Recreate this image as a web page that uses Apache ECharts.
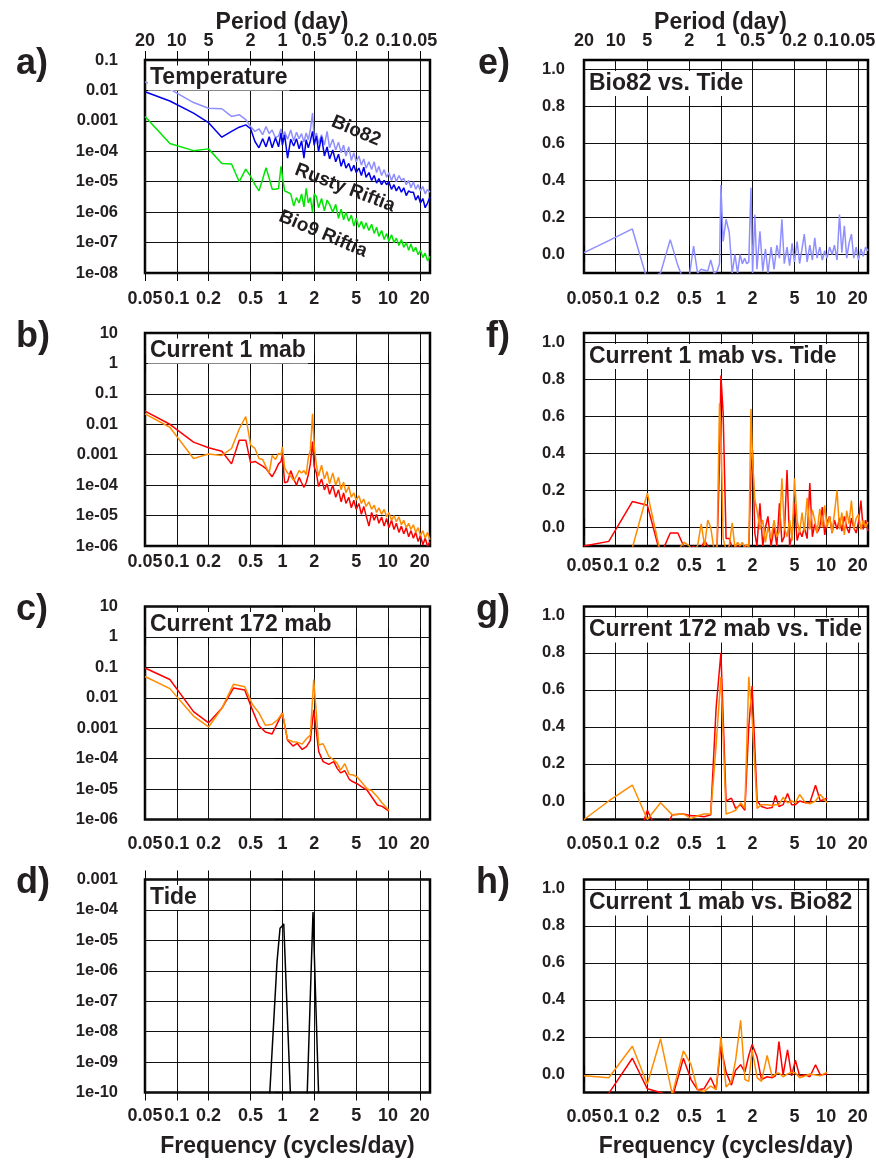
<!DOCTYPE html>
<html>
<head>
<meta charset="utf-8">
<title>Spectra and coherence</title>
<script src="https://cdn.jsdelivr.net/npm/echarts@6/dist/echarts.min.js"></script>
<style>
  html, body { margin: 0; padding: 0; background: #ffffff; }
  #chart { width: 876px; height: 1160px; }
</style>
</head>
<body>
<div id="chart"></div>
<script>
// ---------- tick values and tick labels ----------
const FREQ_TICKS = [0.05, 0.1, 0.2, 0.5, 1, 2, 5, 10, 20];
const FREQ_TICK_LABELS = ['0.05', '0.1', '0.2', '0.5', '1', '2', '5', '10', '20'];
const PERIOD_TICK_LABELS = ['20', '10', '5', '2', '1', '0.5', '0.2', '0.1', '0.05'];
const POWER_EXPONENTS = [-10, -9, -8, -7, -6, -5, -4, -3, -2, -1, 0, 1];
const POWER_TICK_LABELS = ['1e-10', '1e-09', '1e-08', '1e-07', '1e-06', '1e-05', '1e-04', '0.001', '0.01', '0.1', '1', '10'];
const COH_TICKS = [0, 0.2, 0.4, 0.6, 0.8, 1.0];
const COH_TICK_LABELS = ['0.0', '0.2', '0.4', '0.6', '0.8', '1.0'];

// ---------- frequencies (cycles/day) ----------
const FREQ_FULL = [
  0.05, 0.086, 0.144, 0.2, 0.267, 0.33, 0.39, 0.45, 0.5, 0.55, 0.6, 0.65, 0.7, 0.75, 0.8, 0.86,
  0.92, 0.97, 1.0, 1.05, 1.12, 1.2, 1.28, 1.36, 1.44, 1.52, 1.6, 1.68, 1.76, 1.84, 1.93, 2.0,
  2.1, 2.2, 2.35, 2.5, 2.65, 2.8, 3.0, 3.2, 3.4, 3.6, 3.8, 4.0, 4.25, 4.5, 4.75, 5.0, 5.3, 5.6,
  5.9, 6.2, 6.6, 7.0, 7.4, 7.8, 8.2, 8.7, 9.2, 9.7, 10.2, 10.8, 11.4, 12.0, 12.7, 13.4, 14.1,
  14.9, 15.7, 16.5, 17.4, 18.3, 19.3, 20.3, 21.4, 22.5, 23.7, 25.0
];
const FREQ_BAND = [
  0.05, 0.086, 0.144, 0.2, 0.267, 0.345, 0.44, 0.52, 0.6, 0.69, 0.8, 0.9, 1.0, 1.12, 1.26, 1.38,
  1.54, 1.69, 1.84, 1.98, 2.21, 2.43, 2.75, 3.07, 3.3, 3.56, 3.9, 4.3, 4.7, 5.1, 5.6, 6.37, 7.0,
  7.93, 8.8, 10.2
];
const FREQ_TIDE = [0.05, 0.6, 0.76, 0.89, 0.95, 1.0, 1.03, 1.19, 1.3, 1.6, 1.72, 1.95, 2.2, 3.0, 25];

// ---------- a) temperature power spectra ----------
const TEMP_BIO82 = [
  0.019, 0.011, 4e-3, 2.6e-3, 2.5e-3, 1.4e-3, 1.6e-3, 1.1e-3, 6.5e-4, 4.5e-4, 5.5e-4, 3.5e-4, 6.5e-4, 3.8e-4, 5e-4, 2.8e-4,
  3.2e-4, 5.5e-4, 2.8e-4, 4.5e-4, 2.5e-4, 5e-4, 2.2e-4, 4.2e-4, 2.6e-4, 3.8e-4, 2e-4, 4e-4, 2.4e-4, 5e-4, 1.8e-3, 2.5e-4,
  4e-4, 1.8e-4, 3.5e-4, 1.6e-4, 4.5e-4, 1.3e-4, 2.5e-4, 1.1e-4, 2e-4, 9e-5, 1.6e-4, 7e-5, 1.4e-4, 5e-5, 9e-5, 4.5e-5,
  7e-5, 3.5e-5, 5.6e-5, 2.8e-5, 4.5e-5, 2.5e-5, 4.5e-5, 2e-5, 3.2e-5, 1.6e-5, 2.5e-5, 1.4e-5, 2e-5, 1.1e-5, 1.8e-5, 1e-5,
  1.6e-5, 1.1e-5, 1.3e-5, 8e-6, 1.1e-5, 6.3e-6, 1e-5, 5.6e-6, 8e-6, 5e-6, 7e-6, 4e-6, 5.6e-6, 4.5e-6
];
const TEMP_RUSTY = [
  9e-3, 4.5e-3, 1.8e-3, 8.7e-4, 2.9e-4, 4.5e-4, 6.2e-4, 7.4e-4, 5.5e-4, 2.1e-4, 1.3e-4, 2.6e-4, 1.4e-4, 3e-4, 1.3e-4, 2.8e-4,
  1.4e-4, 4e-4, 1.6e-4, 3.5e-4, 6e-5, 2.5e-4, 1.5e-4, 2.6e-4, 1.2e-4, 2.2e-4, 6e-5, 2.4e-4, 1.3e-4, 2.2e-4, 4.5e-4, 1.6e-4,
  3.2e-4, 1e-4, 3e-4, 7e-5, 1.4e-4, 5.6e-5, 1.1e-4, 4.5e-5, 8e-5, 3.2e-5, 5.6e-5, 2.8e-5, 4e-5, 2.2e-5, 3.5e-5, 2e-5,
  2.8e-5, 1.6e-5, 3e-5, 1.4e-5, 2e-5, 1.1e-5, 1.6e-5, 9e-6, 1.26e-5, 8e-6, 1.1e-5, 8e-6, 1e-5, 5.6e-6, 8e-6, 5e-6,
  7e-6, 4.5e-6, 6.3e-6, 3.5e-6, 5e-6, 4.5e-6, 4.5e-6, 2.5e-6, 3.5e-6, 2e-6, 2.8e-6, 1.4e-6, 2e-6, 3.2e-6
];
const TEMP_BIO9 = [
  1.4e-3, 1.8e-4, 1.05e-4, 1.2e-4, 4e-5, 3.8e-5, 1e-5, 2.6e-5, 1.5e-5, 8e-6, 5e-6, 1.2e-5, 2.9e-5, 1.3e-5, 5.7e-6, 5.7e-6,
  6e-6, 3.2e-5, 1.5e-5, 5e-6, 4.5e-6, 4e-6, 1.6e-6, 3e-6, 2e-6, 4e-6, 1.5e-6, 6e-6, 2e-6, 3e-6, 1e-6, 4e-6,
  3.2e-6, 1.4e-6, 2.8e-6, 1.1e-6, 2.5e-6, 1.8e-6, 1e-6, 1.8e-6, 6.3e-7, 1.26e-6, 5.6e-7, 1e-6, 5e-7, 8e-7, 3.5e-7, 6.3e-7,
  3.2e-7, 5e-7, 2.8e-7, 4.5e-7, 2.5e-7, 4e-7, 2e-7, 3.2e-7, 1.6e-7, 2.5e-7, 1.26e-7, 2e-7, 1.1e-7, 1.8e-7, 1e-7, 1.4e-7,
  8e-8, 1.26e-7, 7e-8, 1e-7, 5.6e-8, 9e-8, 5e-8, 7e-8, 4e-8, 5.6e-8, 3.2e-8, 4.5e-8, 2.5e-8, 3.5e-8
];

// ---------- b) current 1 mab power spectra (two components) ----------
const CUR1_COMP1 = [
  0.027, 0.01, 2.6e-3, 1.7e-3, 1.3e-3, 5e-4, 3e-3, 3e-3, 5.5e-4, 6e-4, 5e-4, 4.2e-4, 3.5e-4, 2.5e-4, 1.9e-4, 3e-4,
  5e-4, 6e-4, 1e-3, 1.2e-4, 1.3e-4, 3e-4, 1.6e-4, 1e-4, 1.8e-4, 1.2e-4, 8.5e-5, 1.2e-4, 2.2e-4, 5e-4, 2.7e-3, 4e-4,
  2.5e-4, 9e-5, 1.6e-4, 7e-5, 1.1e-4, 5e-5, 1e-4, 4e-5, 7e-5, 2.8e-5, 5.6e-5, 2.5e-5, 4e-5, 1.8e-5, 3.2e-5, 1.6e-5,
  2.5e-5, 1.1e-5, 2e-5, 1e-5, 4.5e-6, 1.26e-5, 7e-6, 1.1e-5, 5.6e-6, 9e-6, 4.5e-6, 8e-6, 4e-6, 7e-6, 3.5e-6, 5.6e-6,
  2.8e-6, 4.5e-6, 2.5e-6, 4e-6, 2e-6, 3.2e-6, 1.8e-6, 2.8e-6, 1.4e-6, 2.2e-6, 1.1e-6, 1.8e-6, 1e-6, 1.4e-6
];
const CUR1_COMP2 = [
  0.022, 8e-3, 7.5e-4, 1.05e-3, 9.5e-4, 1.6e-3, 7e-3, 0.018, 2.1e-3, 1.6e-3, 7.5e-4, 7e-4, 4e-4, 2.5e-4, 9.5e-4, 7e-4,
  1.1e-3, 1e-3, 1.8e-3, 3.7e-4, 2.5e-4, 2e-4, 1.4e-4, 2e-4, 3e-4, 2.5e-4, 3e-4, 2.2e-4, 8e-4, 1.4e-3, 0.022, 2e-3,
  4.5e-4, 2e-4, 4.5e-4, 1.6e-4, 2.8e-4, 1.1e-4, 2.5e-4, 1e-4, 1.8e-4, 7e-5, 1.26e-4, 5.6e-5, 9e-5, 4e-5, 5.6e-5, 3.2e-5,
  4.5e-5, 2.5e-5, 3.5e-5, 2e-5, 2.8e-5, 1.6e-5, 2.2e-5, 1.26e-5, 1.8e-5, 1.1e-5, 1.6e-5, 9e-6, 1.26e-5, 7e-6, 1e-5, 6.3e-6,
  9e-6, 5e-6, 7e-6, 4e-6, 5.6e-6, 3.5e-6, 5e-6, 2.8e-6, 4e-6, 2.2e-6, 3.2e-6, 1.8e-6, 2.8e-6, 1.6e-6
];

// ---------- c) current 172 mab power spectra ----------
const CUR172_COMP1 = [
  0.095, 0.04, 3.5e-3, 1.5e-3, 4.5e-3, 0.021, 0.018, 4e-3, 1.2e-3, 7.5e-4, 6.5e-4, 1.5e-3, 3.2e-3, 4e-4, 2.6e-4, 3.2e-4,
  2e-4, 2.5e-4, 4e-4, 4e-3, 1.7e-4, 8e-5, 6.5e-5, 8e-5, 4.8e-5, 3.4e-5, 4e-5, 2.1e-5, 1.7e-5, 1.5e-5, 1.2e-5, 9e-6,
  5.6e-6, 3e-6, 2.7e-6, 1.9e-6
];
const CUR172_COMP2 = [
  0.05, 0.02, 2.5e-3, 1.1e-3, 4.5e-3, 0.028, 0.023, 6e-3, 3.2e-3, 1.25e-3, 1.35e-3, 1.9e-3, 3.1e-3, 4.3e-4, 3.6e-4, 3.5e-4,
  3e-4, 4.5e-4, 6e-4, 0.04, 2.8e-4, 3.1e-4, 1.2e-4, 9e-5, 7e-5, 4.2e-5, 6.8e-5, 3e-5, 2.9e-5, 2.5e-5, 1.7e-5, 1e-5,
  9e-6, 5.6e-6, 3.5e-6, 2e-6
];

// ---------- d) tide power spectrum ----------
const TIDE_POWER = [1e-14, 1e-14, 1e-10, 2e-6, 2.5e-5, 3e-5, 3.5e-5, 1e-10, 1e-14, 1e-14, 1e-10, 8.5e-5, 1e-10, 1e-14, 1e-14];

// ---------- e)-h) coherence ----------
const COH_BIO82_TIDE = [
  0.01, 0.075, 0.138, -0.14, -0.1, 0.08, -0.06, -0.15, -0.12, 0.045, -0.1, -0.08, -0.085, -0.09, -0.03, -0.1,
  -0.09, -0.05, 0.375, 0.07, 0.19, 0.12, -0.1, 0.0, -0.1, 0.0, -0.05, -0.02, -0.05, -0.04, 0.36, -0.1,
  0.215, -0.08, 0.125, -0.09, 0.03, -0.1, 0.04, -0.08, 0.05, -0.02, 0.19, -0.05, 0.04, -0.06, 0.06, -0.04,
  0.07, -0.05, 0.03, 0.11, -0.04, 0.05, -0.03, 0.09, -0.02, 0.04, -0.03, 0.02, -0.02, 0.04, 0.0, 0.05,
  -0.03, 0.215, 0.01, 0.155, -0.02, 0.06, 0.11, -0.02, 0.04, -0.03, 0.03, -0.01, 0.04, 0.02
];
const COH_CUR1_TIDE_COMP1 = [
  -0.1, -0.075, 0.14, 0.12, -0.15, -0.03, -0.03, -0.11, -0.12, -0.1, -0.12, -0.11, -0.07, -0.1, -0.12, -0.12,
  -0.11, 0.35, 0.82, 0.62, -0.06, -0.06, -0.11, -0.12, -0.1, -0.11, -0.12, -0.1, -0.11, -0.12, 0.3, 0.42,
  -0.03, -0.1, 0.13, -0.1, 0.0, 0.06, -0.1, 0.0, -0.1, 0.13, -0.08, -0.05, 0.31, -0.1, -0.04, 0.13,
  -0.07, -0.02, -0.05, 0.0, -0.06, 0.24, -0.05, 0.02, -0.03, 0.0, 0.11, -0.04, 0.03, 0.06, -0.03, 0.04,
  -0.01, 0.05, -0.02, 0.06, 0.0, -0.03, 0.05, 0.0, -0.03, 0.03, 0.145, -0.01, 0.04, -0.02
];
const COH_CUR1_TIDE_COMP2 = [
  -0.3, -0.3, -0.11, 0.185, -0.14, -0.15, -0.12, -0.08, -0.1, -0.12, -0.1, 0.02, -0.1, 0.04, 0.0, -0.12,
  -0.1, 0.67, 0.56, -0.06, -0.12, -0.1, 0.025, -0.11, -0.08, -0.1, -0.08, -0.11, -0.09, -0.12, 0.64, 0.36,
  0.15, 0.095, -0.01, 0.04, -0.08, 0.0, -0.06, 0.04, -0.05, -0.02, 0.265, 0.0, -0.05, 0.04, -0.07, 0.265,
  0.04, -0.03, 0.08, -0.02, 0.16, -0.01, 0.095, 0.04, -0.03, 0.1, 0.0, 0.12, 0.0, 0.06, -0.03, 0.08,
  0.2, -0.01, 0.08, -0.04, 0.09, 0.02, 0.145, -0.01, 0.05, 0.07, -0.01, 0.04, 0.0, 0.03
];
const COH_CUR172_TIDE_COMP1 = [
  -0.3, -0.3, -0.3, -0.05, -0.2, -0.075, -0.07, -0.08, -0.08, -0.085, -0.075, 0.5, 0.8, 0.0, 0.015, -0.04,
  -0.02, -0.05, 0.4, 0.62, 0.0, -0.03, -0.04, -0.035, 0.03, -0.03, -0.02, 0.04, -0.02, -0.02, 0.0, -0.01,
  -0.01, 0.085, 0.0, 0.015
];
const COH_CUR172_TIDE_COMP2 = [
  -0.1, 0.0, 0.086, -0.1, -0.01, -0.075, -0.07, -0.095, -0.08, -0.07, -0.07, 0.3, 0.67, -0.07, -0.06, -0.05,
  -0.01, -0.04, 0.67, 0.45, -0.04, -0.02, -0.02, -0.025, -0.02, -0.02, 0.02, -0.01, 0.0, -0.01, 0.035, -0.01,
  -0.015, 0.0, 0.035, -0.01
];
const COH_CUR1_BIO82_COMP1 = [
  -0.3, -0.105, 0.085, -0.08, -0.1, -0.13, 0.085, -0.03, -0.085, -0.08, -0.02, -0.085, 0.15, 0.01, -0.06, 0.02,
  0.05, 0.01, 0.1, 0.16, 0.09, -0.03, -0.015, -0.02, -0.01, 0.175, -0.005, 0.13, -0.01, 0.075, -0.01, -0.005,
  -0.015, 0.05, -0.005, 0.0
];
const COH_CUR1_BIO82_COMP2 = [
  -0.01, -0.02, 0.15, -0.055, 0.19, -0.11, 0.125, 0.05, -0.085, -0.095, -0.065, -0.085, 0.2, -0.07, -0.04, 0.075,
  0.29, -0.03, -0.04, 0.13, -0.02, -0.04, 0.1, -0.015, 0.0, 0.005, -0.015, 0.0, 0.01, 0.005, -0.02, -0.01,
  0.0, -0.005, -0.01, 0.01
];

// ---------- styling ----------
const FONT = "'Liberation Sans', Arial, Helvetica, sans-serif";
const INK = '#231f20';
const RED = '#ff0000', ORANGE = '#ff8c00';
const COL_LEFT = [145, 584];
const COL_WIDTH = [285, 284];
const ROW_TOP = [60, 333, 606.5, 879.5];
const PLOT_H = 213;
const X_MIN = Math.log10(0.05), X_MAX = Math.log10(25);

const PANELS = [
  { tag: 'a)', col: 0, row: 0, kind: 'power', y: [-8, -1], title: 'Temperature', period: true, xMargin: 17,
    lines: [[FREQ_FULL, TEMP_BIO82, '#8f8fff'], [FREQ_FULL, TEMP_RUSTY, '#0000ee'], [FREQ_FULL, TEMP_BIO9, '#00e600']] },
  { tag: 'b)', col: 0, row: 1, kind: 'power', y: [-6, 1], title: 'Current 1 mab', xMargin: 7,
    lines: [[FREQ_FULL, CUR1_COMP1, RED], [FREQ_FULL, CUR1_COMP2, ORANGE]] },
  { tag: 'c)', col: 0, row: 2, kind: 'power', y: [-6, 1], title: 'Current 172 mab', xMargin: 16,
    lines: [[FREQ_BAND, CUR172_COMP1, RED], [FREQ_BAND, CUR172_COMP2, ORANGE]] },
  { tag: 'd)', col: 0, row: 3, kind: 'power', y: [-10, -3], title: 'Tide', xMargin: 15, freqName: true,
    lines: [[FREQ_TIDE, TIDE_POWER, '#000000']] },
  { tag: 'e)', col: 1, row: 0, kind: 'coh', title: 'Bio82 vs. Tide', period: true, xMargin: 17,
    lines: [[FREQ_FULL, COH_BIO82_TIDE, '#8f8fff']] },
  { tag: 'f)', col: 1, row: 1, kind: 'coh', title: 'Current 1 mab vs. Tide', xMargin: 11,
    lines: [[FREQ_FULL, COH_CUR1_TIDE_COMP1, RED], [FREQ_FULL, COH_CUR1_TIDE_COMP2, ORANGE]] },
  { tag: 'g)', col: 1, row: 2, kind: 'coh', title: 'Current 172 mab vs. Tide', xMargin: 16,
    lines: [[FREQ_BAND, COH_CUR172_TIDE_COMP1, RED], [FREQ_BAND, COH_CUR172_TIDE_COMP2, ORANGE]] },
  { tag: 'h)', col: 1, row: 3, kind: 'coh', title: 'Current 1 mab vs. Bio82', xMargin: 16, freqName: true,
    lines: [[FREQ_BAND, COH_CUR1_BIO82_COMP1, RED], [FREQ_BAND, COH_CUR1_BIO82_COMP2, ORANGE]] }
];

// labels drawn along the temperature curves
const TEMP_CURVE_LABELS = [
  { text: 'Bio82', x: 356, y: 131, angle: 23 },
  { text: 'Rusty Riftia', x: 345, y: 188, angle: 21 },
  { text: 'Bio9 Riftia', x: 323, y: 234, angle: 23 }
];

const FREQ_TICK_POS = FREQ_TICKS.map(f => Math.log10(f));
function lookup(v, positions, labels) {
  const k = positions.findIndex(t => Math.abs(t - v) < 1e-6);
  return k < 0 ? '' : labels[k];
}
const tickLabelStyle = (size) => ({ fontSize: size, fontWeight: 'bold', color: INK, fontFamily: FONT });
const nameStyle = { fontSize: 23, fontWeight: 'bold', color: INK, fontFamily: FONT };
const tickLine = { color: '#000', width: 1 };
const gridLine = { color: '#111', width: 1 };

const grids = [], xAxes = [], yAxes = [], series = [], graphics = [];

PANELS.forEach((p, i) => {
  const left = COL_LEFT[p.col], top = ROW_TOP[p.row], width = COL_WIDTH[p.col];
  grids.push({
    left, top, width, height: PLOT_H, show: true, borderColor: '#000', borderWidth: 2.5,
    backgroundColor: 'transparent', containLabel: false, outerBoundsMode: 'none'
  });

  // bottom frequency axis
  xAxes.push({
    gridIndex: i, type: 'value', position: 'bottom', min: X_MIN, max: X_MAX,
    axisLine: { show: false },
    axisTick: { show: true, inside: false, length: 8, lineStyle: tickLine, customValues: FREQ_TICK_POS },
    axisLabel: Object.assign({ show: true, margin: p.xMargin, customValues: FREQ_TICK_POS,
      formatter: v => lookup(v, FREQ_TICK_POS, FREQ_TICK_LABELS) }, tickLabelStyle(18)),
    splitLine: { show: true, lineStyle: gridLine },
    name: p.freqName ? 'Frequency (cycles/day)' : '', nameLocation: 'middle', nameGap: 43,
    nameMoveOverlap: false, nameTextStyle: nameStyle
  });
  // top axis (period labels on the first row)
  xAxes.push({
    gridIndex: i, type: 'value', position: 'top', min: X_MIN, max: X_MAX,
    axisLine: { show: false },
    axisTick: { show: true, inside: false, length: 9, lineStyle: tickLine, customValues: FREQ_TICK_POS },
    axisLabel: Object.assign({ show: !!p.period, margin: 10, customValues: FREQ_TICK_POS,
      formatter: v => lookup(v, FREQ_TICK_POS, PERIOD_TICK_LABELS) }, tickLabelStyle(18)),
    splitLine: { show: false },
    name: p.period ? 'Period (day)' : '', nameLocation: 'middle', nameGap: 26,
    nameMoveOverlap: false, nameTextStyle: Object.assign({ padding: [0, 11, 0, 0] }, nameStyle)
  });

  const yCommon = p.kind === 'power'
    ? { min: p.y[0], max: p.y[1], interval: 1 }
    : { min: -0.1, max: 1.05 };
  const yTickCustom = p.kind === 'power' ? {} : { customValues: COH_TICKS };
  const yFormatter = p.kind === 'power'
    ? (v => lookup(v, POWER_EXPONENTS, POWER_TICK_LABELS))
    : (v => lookup(v, COH_TICKS, COH_TICK_LABELS));

  yAxes.push(Object.assign({
    gridIndex: i, type: 'value', position: 'left',
    axisLine: { show: false },
    axisTick: Object.assign({ show: true, inside: false, length: 8, lineStyle: tickLine }, yTickCustom),
    axisLabel: Object.assign({ show: true, margin: p.col === 0 ? 27 : 19, formatter: yFormatter }, yTickCustom, tickLabelStyle(16.5)),
    splitLine: { show: true, lineStyle: gridLine }
  }, yCommon));
  yAxes.push(Object.assign({
    gridIndex: i, type: 'value', position: 'right',
    axisLine: { show: false },
    axisTick: Object.assign({ show: true, inside: false, length: 8, lineStyle: tickLine }, yTickCustom),
    axisLabel: { show: false },
    splitLine: { show: false }
  }, yCommon));

  p.lines.forEach(([freqs, vals, color]) => {
    series.push({
      type: 'line', xAxisIndex: 2 * i, yAxisIndex: 2 * i,
      data: freqs.map((f, k) => [Math.log10(f), p.kind === 'power' ? Math.log10(vals[k]) : vals[k]]),
      showSymbol: false, symbol: 'none', clip: true, silent: true, z: 3,
      lineStyle: { color, width: 1.5 }, itemStyle: { color }
    });
  });

  // panel letter
  graphics.push({
    type: 'text', z: 100, silent: true,
    style: {
      text: p.tag, x: p.col === 0 ? 16 : 510, y: top + 4,
      align: p.col === 0 ? 'left' : 'right', verticalAlign: 'middle',
      font: `bold 36px ${FONT}`, fill: INK
    }
  });
  // panel title with a white box behind it
  graphics.push({
    type: 'text', z: 100, silent: true,
    style: {
      text: p.title, x: left + 3, y: top + (p.col === 0 ? 18 : 23.5),
      align: 'left', verticalAlign: 'middle',
      font: `bold 23px ${FONT}`, fill: INK,
      backgroundColor: '#ffffff', padding: [1, 2, 1, 2]
    }
  });
});

TEMP_CURVE_LABELS.forEach(l => {
  graphics.push({
    type: 'text', z: 100, silent: true, x: l.x, y: l.y, rotation: -l.angle * Math.PI / 180,
    style: { text: l.text, x: 0, y: 0, align: 'center', verticalAlign: 'middle', font: `bold 19px ${FONT}`, fill: INK }
  });
});

const chart = echarts.init(document.getElementById('chart'), null, { renderer: 'canvas', width: 876, height: 1160 });
chart.setOption({
  backgroundColor: '#ffffff',
  animation: false,
  grid: grids,
  xAxis: xAxes,
  yAxis: yAxes,
  series,
  graphic: { elements: graphics }
});
</script>
</body>
</html>
